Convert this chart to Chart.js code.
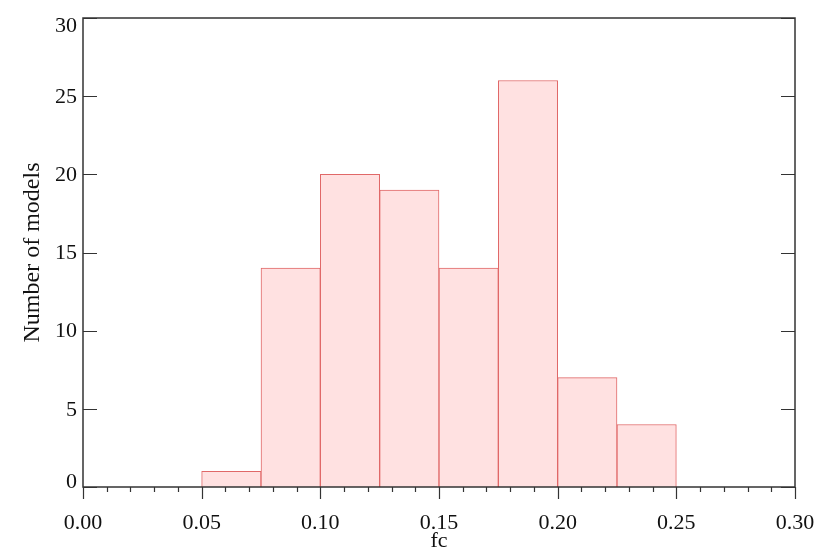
<!DOCTYPE html>
<html>
<head>
<meta charset="utf-8">
<script src="https://cdn.jsdelivr.net/npm/chart.js@4/dist/chart.umd.min.js"></script>
<style>
html,body{margin:0;padding:0;background:#fff;}
#wrap{width:830px;height:554px;position:relative;}
</style>
</head>
<body>
<div id="wrap"><canvas id="c" width="830" height="554"></canvas></div>
<script>
// Histogram data
const binStarts = [0.05, 0.075, 0.10, 0.125, 0.15, 0.175, 0.20, 0.225];
const binWidth = 0.025;
const counts = [1, 14, 20, 19, 14, 26, 7, 4];
const xTicks = [0.00, 0.05, 0.10, 0.15, 0.20, 0.25, 0.30];
const yTicks = [0, 5, 10, 15, 20, 25, 30];
const xLabel = 'fc';
const yLabel = 'Number of models';

const FONT = 'Liberation Serif';
const axisColor = '#333333';

const frameTicks = {
  id: 'frameTicks',
  afterDatasetsDraw(chart) {
    const {ctx, chartArea: a, scales: {x, y}} = chart;
    ctx.save();
    ctx.strokeStyle = axisColor;
    ctx.lineWidth = 1.5;
    ctx.strokeRect(a.left, a.top, a.right - a.left, a.bottom - a.top);
    ctx.lineWidth = 1.2;
    ctx.beginPath();
    // x ticks: major outward 12px, minor every 0.01 outward 5px
    for (let i = 0; i <= 30; i++) {
      const v = i / 100;
      const px = Math.round(x.getPixelForValue(v)) + 0.5;
      const len = (i % 5 === 0) ? 12 : 5;
      ctx.moveTo(px, a.bottom);
      ctx.lineTo(px, a.bottom + len);
    }
    // y ticks inward on left and right
    yTicks.forEach(v => {
      const py = Math.round(y.getPixelForValue(v)) + 0.5;
      ctx.moveTo(a.left, py); ctx.lineTo(a.left + 14, py);
      ctx.moveTo(a.right, py); ctx.lineTo(a.right - 14, py);
    });
    ctx.stroke();
    // y tick labels (end labels nudged inside the frame, as in the reference)
    ctx.fillStyle = '#111';
    ctx.font = '22px "' + FONT + '"';
    ctx.textAlign = 'right';
    ctx.textBaseline = 'middle';
    yTicks.forEach(v => {
      let py = y.getPixelForValue(v) + 1;
      if (v === yTicks[0]) py -= 6;
      if (v === yTicks[yTicks.length - 1]) py += 7;
      ctx.fillText(String(v), a.left - 6, py);
    });
    ctx.restore();
  }
};

new Chart(document.getElementById('c'), {
  type: 'bar',
  data: {
    datasets: [{
      data: binStarts.map((s, i) => ({x: s + binWidth / 2, y: counts[i]})),
      backgroundColor: 'rgba(255,225,225,1)',
      borderColor: 'rgb(224,104,104)',
      borderWidth: 1,
      barPercentage: 1,
      categoryPercentage: 1,
      borderSkipped: 'bottom'
    }]
  },
  options: {
    responsive: false,
    animation: false,
    devicePixelRatio: 1,
    layout: {padding: {left: 0, right: 35, top: 18, bottom: 0}},
    plugins: {legend: {display: false}, tooltip: {enabled: false}},
    scales: {
      x: {
        type: 'linear',
        offset: false,
        min: 0, max: 0.3,
        afterBuildTicks: s => { s.ticks = xTicks.map(v => ({value: v})); },
        afterFit: s => { s.height = 67; },
        grid: {display: false, offset: false},
        border: {display: false},
        ticks: {
          color: '#111', padding: 15, maxRotation: 0,
          font: {family: FONT, size: 22},
          callback: v => Number(v).toFixed(2)
        },
        title: {display: true, text: xLabel, color: '#111', font: {family: FONT, size: 22}, padding: {top: 0, bottom: 0}}
      },
      y: {
        min: 0, max: 30,
        afterBuildTicks: s => { s.ticks = yTicks.map(v => ({value: v})); },
        afterFit: s => { s.width = 83; },
        grid: {display: false},
        border: {display: false},
        ticks: {display: false},
        title: {display: true, text: yLabel, color: '#111', font: {family: FONT, size: 24}, padding: {top: 18, bottom: 0}}
      }
    }
  },
  plugins: [frameTicks]
});
</script>
</body>
</html>
